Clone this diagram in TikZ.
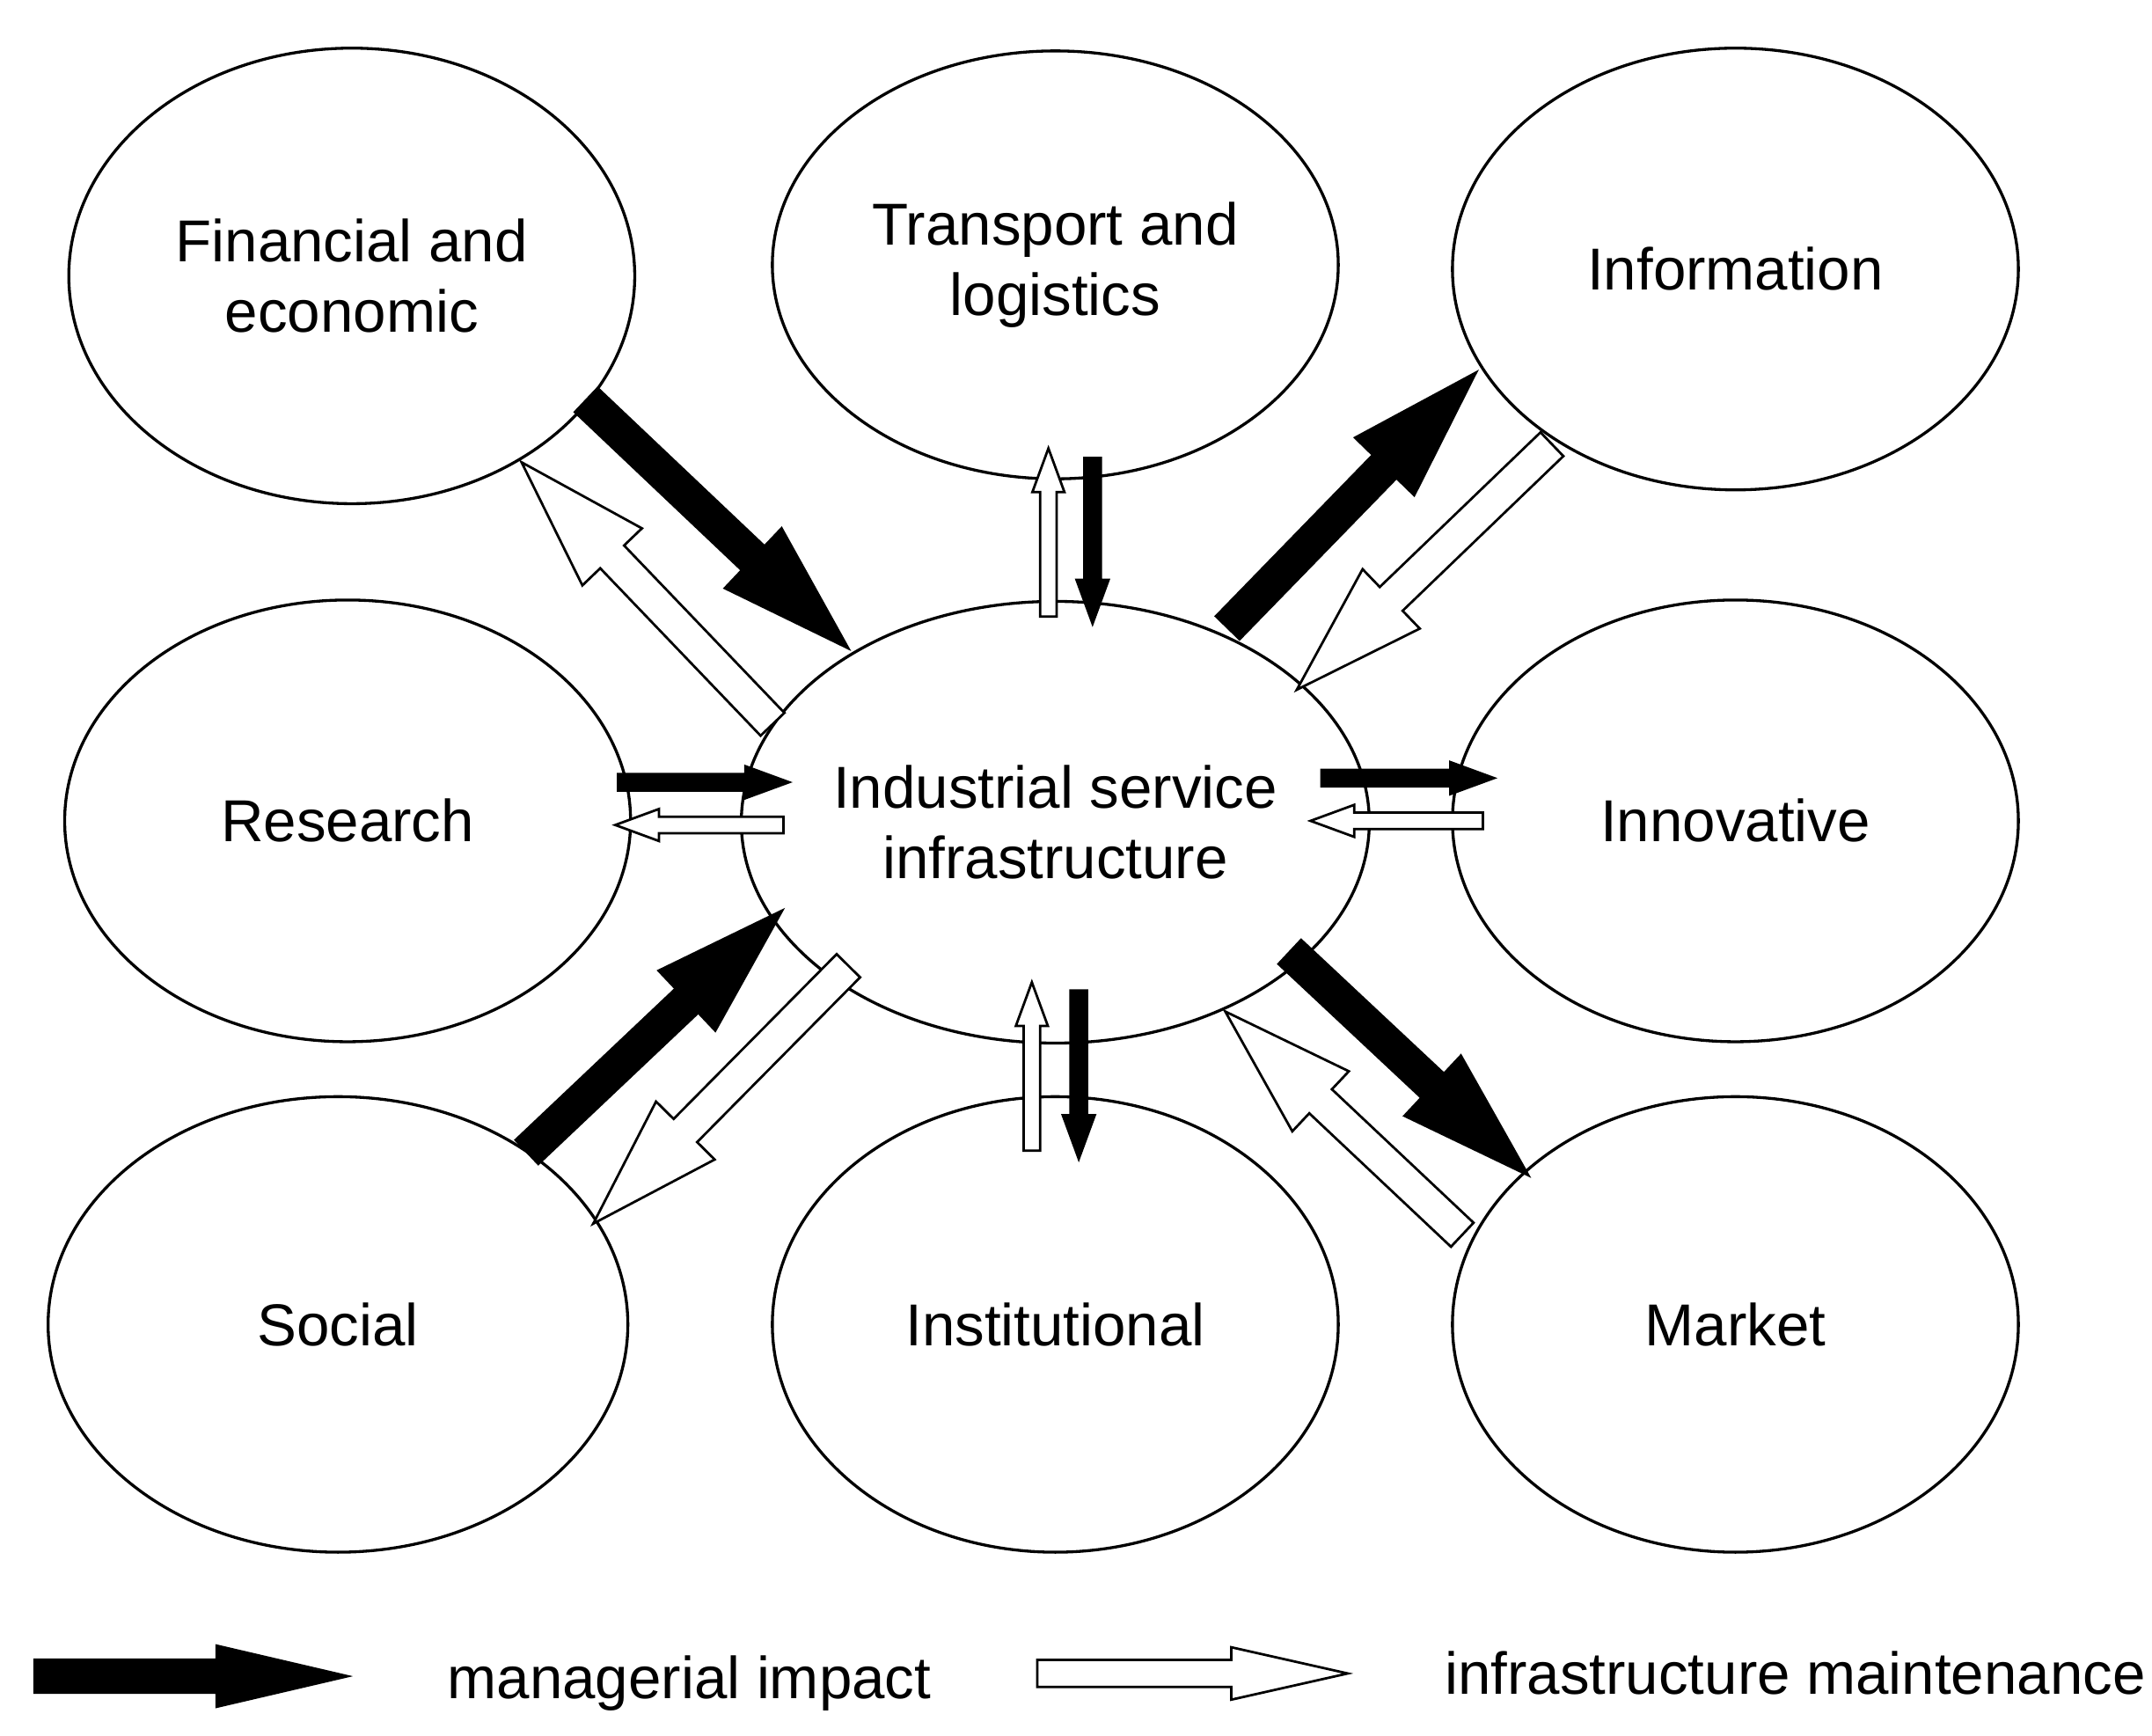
\documentclass[tikz,border=0pt]{standalone}
\usepackage{fontspec}
\setmainfont{Liberation Sans}
\usetikzlibrary{shapes.geometric,calc}
\tikzset{
 ell/.style={ellipse,draw,line width=0.6pt,inner sep=0pt,align=center,font=\fontsize{12.2}{14.5}\selectfont},
 blackarr/.style={draw,line width=0.5pt,fill=black},
 whitearr/.style={draw,line width=0.5pt,fill=white},
 lab/.style={anchor=west,font=\fontsize{12.2}{15}\selectfont}
}
% style, from, to, shaft half, head half, head length
\newcommand\barrow[6]{\draw[#1] let \p1=($(#3)-(#2)$), \n1={atan2(\y1,\x1)}, \n2={veclen(\x1,\y1)} in
 [shift={(#2)}, rotate=\n1] (0pt,-#4)--(\n2-#6,-#4)--(\n2-#6,-#5)--(\n2,0pt)--(\n2-#6,#5)--(\n2-#6,#4)--(0pt,#4)--cycle;}
\newcommand\bigarr[3]{\barrow{#1}{#2}{#3}{3.4pt}{8.5pt}{27pt}}
\newcommand\smallarr[3]{\barrow{#1}{#2}{#3}{1.7pt}{3.3pt}{9pt}}
\begin{document}
\begin{tikzpicture}[x=0.01cm,y=-0.01cm]
\useasboundingbox (0,0) rectangle (1560,1258);
\node[ell,minimum width=4.1cm,minimum height=3.3cm] (fin) at (255,200) {Financial and\\economic};
\node[ell,minimum width=4.1cm,minimum height=3.1cm] (tra) at (765,192) {Transport and\\logistics};
\node[ell,minimum width=4.1cm,minimum height=3.2cm] (inf) at (1258,195) {Information};
\node[ell,minimum width=4.1cm,minimum height=3.2cm] (res) at (252,595) {Research};
\node[ell,minimum width=4.1cm,minimum height=3.2cm] (isi) at (765,596) {Industrial service\\infrastructure};
\node[ell,minimum width=4.1cm,minimum height=3.2cm] (inn) at (1258,595) {Innovative};
\node[ell,minimum width=4.2cm,minimum height=3.3cm] (soc) at (245,960) {Social};
\node[ell,minimum width=4.1cm,minimum height=3.3cm] (ins) at (765,960) {Institutional};
\node[ell,minimum width=4.1cm,minimum height=3.3cm] (mar) at (1258,960) {Market};
% arrows
\bigarr{blackarr}{425,290}{615,470}
\bigarr{whitearr}{560,525}{378,335}
\smallarr{whitearr}{760,447}{760,325}
\smallarr{blackarr}{792,332}{792,452}
\bigarr{blackarr}{890,455}{1070,270}
\bigarr{whitearr}{1125,322}{940,500}
\smallarr{blackarr}{448,567}{572,567}
\smallarr{whitearr}{568,598}{446,598}
\smallarr{blackarr}{958,564}{1083,564}
\smallarr{whitearr}{1075,595}{950,595}
\bigarr{blackarr}{382,835}{567,660}
\bigarr{whitearr}{615,700}{430,887}
\smallarr{whitearr}{748,834}{748,712}
\smallarr{blackarr}{782,718}{782,840}
\bigarr{blackarr}{935,690}{1108,852}
\bigarr{whitearr}{1060,895}{888,733}
% legend
\barrow{blackarr}{25,1215}{252,1215}{3.4pt}{6.3pt}{27pt}
\barrow{whitearr}{752,1213}{977,1213}{2.8pt}{5.4pt}{24pt}
\node[lab] (l1) at (312,1220) {managerial impact};
\node[lab] (l2) at (1035,1213) {infrastructure maintenance};
\end{tikzpicture}
\end{document}
